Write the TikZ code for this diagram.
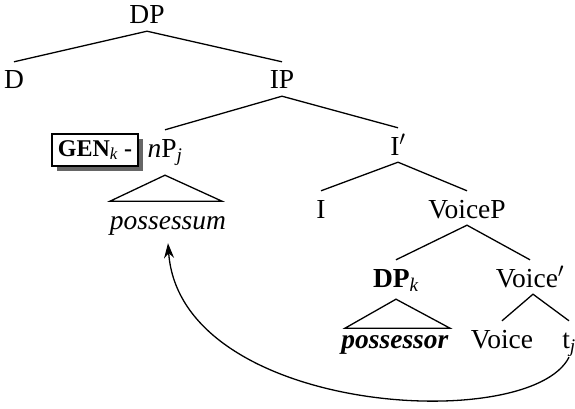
\documentclass[tikz,border=0pt]{standalone}
\usepackage{fontspec}
\setmainfont{Liberation Serif}
\usepackage{tikz}
\usetikzlibrary{calc}
\usetikzlibrary{arrows.meta}
\usetikzlibrary{shadows}
\usetikzlibrary{positioning}

\newcommand{\sub}[1]{\textsubscript{\textit{#1}}}

\tikzset{
  cat/.style={anchor=base,inner sep=2pt,text height=25pt,text depth=5pt},
  branch/.style={line width=1.3pt},
  genbox/.style={draw,line width=1.4pt,fill=white,minimum width=86pt,minimum height=32pt,
    anchor=base,inner sep=0pt,font=\fontsize{24}{28}\selectfont,
    drop shadow={shadow xshift=5pt,shadow yshift=-5pt,fill=black!60,opacity=1}},
}

\begin{document}
\begin{tikzpicture}[x=1pt,y=1pt,font=\fontsize{27.5}{32}\selectfont]
\useasboundingbox (0,0) rectangle (575,-409);
\node[cat] (DP) at (147,-24) {DP};
\node[cat] (D) at (14,-89) {D};
\node[cat] (IP) at (282,-89) {IP};
\node[genbox] (gen) at (95,-156) {\textbf{GEN}\sub{k} \textbf{-}};
\node[cat] (nP) at (165,-157) {\textit{n}P\sub{j}};
\node[cat] (Ibar) at (398,-155) {I$'$};
\node[cat] (poss) at (168,-229) {\textit{possessum}};
\node[cat] (I) at (321,-218) {I};
\node[cat] (VoiceP) at (467,-218) {VoiceP};
\node[cat] (DPk) at (396,-287) {\textbf{DP}\sub{k}};
\node[cat] (Voicebar) at (530,-287) {Voice$'$};
\node[cat] (possr) at (395,-348) {\textbf{\textit{possessor}}};
\node[cat] (Voice) at (502,-348) {Voice};
\node[cat] (t) at (569,-348) {t\sub{j}};
% branches
\draw[branch] (D.north) -- (DP.south) -- (IP.north);
\draw[branch] (nP.north) -- (IP.south) -- (Ibar.north);
\draw[branch] (I.north) -- (Ibar.south) -- (VoiceP.north);
\draw[branch] (DPk.north) -- (VoiceP.south) -- (Voicebar.north);
\draw[branch] (Voice.north) -- ([xshift=3pt]Voicebar.south) -- (t.north);
% triangles
\draw[branch] ([yshift=-11pt]nP.south) -- ++(-55,-26) -- ++(112,0) -- cycle;
\draw[branch] ([yshift=-5pt]DPk.south) -- ++(-51,-29) -- ++(105,0) -- cycle;
% movement
\draw[branch,-{Stealth[length=15pt,width=10pt,inset=5pt]}] ([yshift=-2pt]t.south)
  .. controls (530,-435) and (180,-415) .. ([yshift=-7pt]poss.south);
\end{tikzpicture}
\end{document}
